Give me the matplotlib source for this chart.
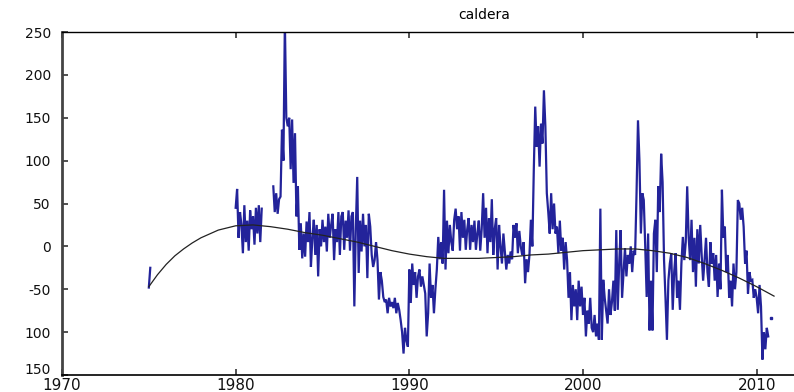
import numpy as np
import matplotlib
matplotlib.use("Agg")
import matplotlib.pyplot as plt
from matplotlib.transforms import ScaledTranslation

# monthly values (nan = no data)
nan = np.nan
start_year = 1975
monthly = {
    1975: [-48, -25] + [nan] * 10,
    1980: [45, 67, 10, 40, 25, -8, 48, 5, 30, -5, 42, 20],
    1981: [35, 2, 45, 15, 48, 5, 44, nan, nan, nan, nan, nan],
    1982: [nan, nan, 70, 40, 62, 38, 55, 58, 136, 100, 262, 150],
    1983: [140, 150, 90, 148, 74, 132, 35, 70, -4, 27, -14, 15],
    1984: [-12, 29, 5, 40, -24, 10, 31, -10, 25, -35, 20, 0],
    1985: [31, 5, 23, -6, 38, 10, 25, 38, -16, 20, 5, 40],
    1986: [-10, 35, 40, -4, 30, 10, 42, -5, 35, 40, -70, 20],
    1987: [81, -31, 30, -6, 38, 0, 25, -37, 38, 23, -10, -24],
    1988: [-16, 5, -16, -62, -30, -40, -59, -65, -62, -78, -60, -70],
    1989: [-65, -72, -60, -78, -66, -74, -86, -100, -125, -95, -110, -117],
    1990: [-27, -66, -20, -45, -30, -60, -35, -27, -47, -35, -45, -55],
    1991: [-105, -78, -20, -60, -45, -78, -50, -27, 11, -15, 5, -20],
    1992: [66, -27, 30, -8, 25, 5, -5, 31, 44, 20, 35, -5],
    1993: [40, 10, 31, -4, 20, 33, -4, 25, 5, 30, -4, 15],
    1994: [30, -5, 20, 62, 10, 45, -8, 33, 5, 55, -10, 20],
    1995: [33, -27, 25, 0, -20, 15, -6, -27, -10, -20, -6, -15],
    1996: [25, 10, 27, -8, 18, 0, -10, 5, -43, -15, -30, -10],
    1997: [31, 0, 89, 163, 116, 140, 93, 143, 120, 182, 140, 62],
    1998: [40, 15, 62, 20, 50, 15, 23, -8, 30, -5, 10, -27],
    1999: [5, -16, -60, -30, -86, -45, -70, -50, -86, -40, -70, -47],
    2000: [-80, -60, -105, -75, -90, -60, -95, -100, -80, -105, -90, -109],
    2001: [44, -109, -39, -60, -75, -90, -50, -80, -65, -40, -75, 19],
    2002: [-74, -20, 19, -60, -30, -2, -35, -10, -20, 0, -30, -5],
    2003: [-10, 62, 147, 100, 15, 62, 54, 0, -59, 15, -98, -40],
    2004: [-98, 15, 31, -30, 70, 40, 108, 75, -16, -60, -109, -40],
    2005: [-20, -8, -74, -30, -8, -60, -40, -74, -20, 11, -16, 5],
    2006: [70, 11, -16, 31, -30, 10, -47, 20, -20, 25, -10, -40],
    2007: [-16, 10, -30, -47, 5, -20, -8, -40, -10, -59, -20, -50],
    2008: [66, 10, 23, -30, -10, -60, -40, -70, -20, -50, -30, 54],
    2009: [50, 31, 45, 23, -20, -5, -55, -30, -40, -39, -60, -50],
    2010: [-60, -78, -45, -70, -132, -100, -120, -95, -105, nan, -84, nan],
}

# smooth fitted curve (black)
trend_years = [1975, 1975.5, 1976, 1976.5, 1977, 1977.5, 1978, 1979, 1980, 1981,
               1982, 1983, 1984, 1985, 1986, 1987, 1988, 1989, 1990, 1991,
               1992, 1993, 1994, 1995, 1996, 1997, 1998, 1999, 2000, 2001,
               2002, 2003, 2004, 2005, 2006, 2007, 2008, 2009, 2010, 2011]
trend_vals = [-47, -33, -21, -11, -3, 4, 10, 19, 24, 25,
              23, 20, 16, 13, 9, 5, 0, -5, -9, -12,
              -14, -14, -14, -13, -12, -10, -9, -7, -5, -4,
              -3, -3, -5, -8, -13, -20, -28, -37, -47, -58]

xticks = [1970, 1980, 1990, 2000, 2010]
yticks = [-150, -100, -50, 0, 50, 100, 150, 200, 250]
ytick_labels = ['150', '100', '-50', '0', '50', '100', '150', '200', '250']

# build the monthly time axis
t, v = [], []
for yr in range(start_year, 2011):
    vals = monthly.get(yr, [nan] * 12)
    for m, val in enumerate(vals):
        t.append(yr + m / 12.0)
        v.append(val)
t = np.array(t)
v = np.array(v, dtype=float)

# single months with no neighbours would not show up as a line
prev_nan = np.isnan(np.r_[nan, v[:-1]])
next_nan = np.isnan(np.r_[v[1:], nan])
lonely = ~np.isnan(v) & prev_nan & next_nan

fig = plt.figure(figsize=(7.94, 3.92), dpi=100)
ax = fig.add_axes([62 / 794, 17 / 392, (794 - 62) / 794, (375 - 32) / 392])

ax.plot(t, v, color='#23239a', linewidth=1.6, solid_joinstyle='miter')
ax.plot(t[lonely], v[lonely], linestyle='none', marker='s', markersize=1.5,
        color='#23239a')
ax.plot(trend_years, trend_vals, color='#222222', linewidth=0.9)

ax.set_xlim(1970, 2012.15)
ax.set_ylim(-150, 250)
ax.set_xticks(xticks)
ax.set_yticks(yticks)
ax.set_yticklabels(ytick_labels)

ax.tick_params(axis='x', direction='in', top=True, length=4, width=1.2,
               color='#333333', labelsize=11, pad=2)
ax.tick_params(axis='y', direction='in', right=False, length=4, width=1.2,
               color='#333333', labelsize=10, pad=8)
for lab in ax.get_xticklabels() + ax.get_yticklabels():
    lab.set_color('#111111')

# bottom y label sits a little higher, as in the reference
low = ax.get_yticklabels()[0]
low.set_transform(low.get_transform() + ScaledTranslation(0, 5 / 72, fig.dpi_scale_trans))

ax.spines['right'].set_visible(False)
ax.spines['left'].set_linewidth(2.0)
ax.spines['left'].set_color('#444444')
ax.spines['top'].set_linewidth(1.0)
ax.spines['bottom'].set_linewidth(1.2)

fig.text(484 / 794, 1 - 15 / 392, 'caldera', ha='center', va='center', fontsize=10)

fig.savefig('out.png', dpi=100, facecolor='white')
